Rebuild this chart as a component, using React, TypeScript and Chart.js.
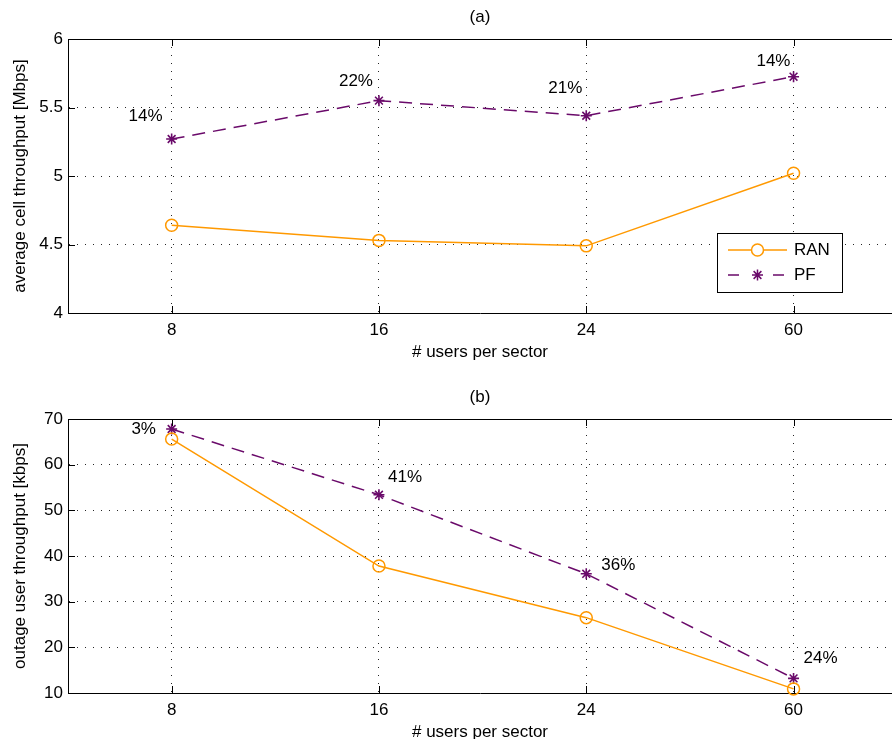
import React, { useEffect, useRef } from "react";
import { Chart, registerables } from "chart.js";

Chart.register(...registerables);

// ---------- data ----------
const categories = ["8", "16", "24", "60"];
const catPos = [1, 2, 3, 4];

// (a) average cell throughput [Mbps]
const ranThroughput = [4.64, 4.53, 4.49, 5.02];
const pfThroughput = [5.27, 5.55, 5.44, 5.725];
const gainALabels = ["14%", "22%", "21%", "14%"];
const gainAX = [0.874, 1.889, 2.899, 3.903];
const gainAY = [5.438, 5.693, 5.642, 5.839];
const yTicksA = [4, 4.5, 5, 5.5, 6];

// (b) outage user throughput [kbps]
const ranOutage = [65.6, 37.8, 26.5, 10.9];
const pfOutage = [67.8, 53.4, 36.1, 13.2];
const gainBLabels = ["3%", "41%", "36%", "24%"];
const gainBX = [0.865, 2.126, 3.155, 4.13];
const gainBY = [67.8, 57.3, 38.0, 17.7];
const yTicksB = [10, 20, 30, 40, 50, 60, 70];

const seriesNames = ["RAN", "PF"];

// ---------- styles ----------
const FONT = "'Liberation Sans', Arial, Helvetica, sans-serif";
const FS = 17;
const ORANGE = "#ff9900";
const PURPLE = "#6a0a6a";
const CW = 892;
const CH = 380;

const decorPlugin = {
  id: "decor",
  afterDatasetsDraw(chart: any, _args: any, opts: any) {
    const { ctx, chartArea: a, scales } = chart;
    const x = scales.x;
    const y = scales.y;
    ctx.save();
    // top box line and inward ticks
    ctx.strokeStyle = "#000";
    ctx.lineWidth = 1;
    ctx.setLineDash([]);
    ctx.beginPath();
    const top = Math.round(a.top) + 0.5;
    ctx.moveTo(a.left, top);
    ctx.lineTo(a.right, top);
    for (const v of catPos) {
      const px = Math.round(x.getPixelForValue(v)) + 0.5;
      ctx.moveTo(px, a.bottom);
      ctx.lineTo(px, a.bottom - 7);
      ctx.moveTo(px, a.top);
      ctx.lineTo(px, a.top + 7);
    }
    for (const v of opts.yTicks) {
      const py = Math.round(y.getPixelForValue(v)) + 0.5;
      ctx.moveTo(a.left, py);
      ctx.lineTo(a.left + 7, py);
    }
    ctx.stroke();

    // gain annotations
    ctx.fillStyle = "#000";
    ctx.font = `${FS}px ${FONT}`;
    ctx.textAlign = "center";
    ctx.textBaseline = "middle";
    opts.labels.forEach((t: string, i: number) => {
      ctx.fillText(t, x.getPixelForValue(opts.lx[i]), y.getPixelForValue(opts.ly[i]));
    });

    // legend
    if (opts.legend) {
      const L = opts.legend;
      ctx.fillStyle = "#fff";
      ctx.fillRect(L.x, L.y, L.w, L.h);
      ctx.strokeStyle = "#000";
      ctx.lineWidth = 1;
      ctx.strokeRect(L.x + 0.5, L.y + 0.5, L.w, L.h);
      chart.data.datasets.forEach((ds: any, i: number) => {
        const yy = L.y + 17 + i * 25;
        const x0 = L.x + 11;
        const x1 = L.x + 70;
        const xm = (x0 + x1) / 2;
        ctx.strokeStyle = ds.borderColor;
        ctx.lineWidth = ds.borderWidth;
        ctx.setLineDash(ds.borderDash && ds.borderDash.length ? [11, 34] : []);
        ctx.beginPath();
        ctx.moveTo(x0, yy);
        ctx.lineTo(x1, yy);
        ctx.stroke();
        ctx.setLineDash([]);
        ctx.beginPath();
        if (ds.pointStyle === "circle") {
          ctx.fillStyle = "#fff";
          ctx.arc(xm, yy, ds.pointRadius, 0, Math.PI * 2);
          ctx.fill();
          ctx.stroke();
        } else {
          const r = ds.pointRadius;
          for (let k = 0; k < 4; k++) {
            const ang = (k * Math.PI) / 4;
            ctx.moveTo(xm - r * Math.cos(ang), yy - r * Math.sin(ang));
            ctx.lineTo(xm + r * Math.cos(ang), yy + r * Math.sin(ang));
          }
          ctx.stroke();
        }
        ctx.fillStyle = "#000";
        ctx.textAlign = "left";
        ctx.textBaseline = "middle";
        ctx.fillText(ds.label, L.x + 77, yy);
      });
    }
    ctx.restore();
  },
};

function makeConfig(
  title: string,
  yTitle: string,
  ran: number[],
  pf: number[],
  yTicks: number[],
  labels: string[],
  lx: number[],
  ly: number[],
  withLegend: boolean
): any {
  const toPts = (arr: number[]) => catPos.map((p, i) => ({ x: p, y: arr[i] }));
  return {
    type: "line",
    data: {
      datasets: [
        {
          label: seriesNames[0],
          data: toPts(ran),
          borderColor: ORANGE,
          borderWidth: 1.5,
          pointStyle: "circle",
          pointRadius: 6,
          pointBorderWidth: 1.5,
          pointBorderColor: ORANGE,
          pointBackgroundColor: "rgba(0,0,0,0)",
          tension: 0,
          fill: false,
          clip: false,
        },
        {
          label: seriesNames[1],
          data: toPts(pf),
          borderColor: PURPLE,
          borderWidth: 1.5,
          borderDash: [13, 8],
          pointStyle: "star",
          pointRadius: 5.5,
          pointBorderWidth: 1.6,
          pointBorderColor: PURPLE,
          pointBackgroundColor: PURPLE,
          tension: 0,
          fill: false,
          clip: false,
        },
      ],
    },
    options: {
      responsive: false,
      animation: false,
      events: [],
      layout: { autoPadding: false, padding: { top: 0, left: 0, right: 0, bottom: 0 } },
      scales: {
        x: {
          type: "linear",
          min: 0.5,
          max: 0.5 + 824 / 207.3,
          afterBuildTicks: (s: any) => {
            s.ticks = catPos.map((v) => ({ value: v }));
          },
          afterFit: (s: any) => {
            s.height = CH - 313;
          },
          ticks: {
            color: "#000",
            font: { size: FS, family: FONT },
            padding: 7,
            maxRotation: 0,
            callback: (v: any) => {
              const i = catPos.indexOf(v);
              return i >= 0 ? categories[i] : "";
            },
          },
          grid: { color: "rgba(0,0,0,0.85)", lineWidth: 1, drawTicks: false },
          border: { display: true, color: "#000", width: 1, dash: [1, 7] },
          title: {
            display: true,
            text: "# users per sector",
            color: "#000",
            font: { size: FS, family: FONT },
            padding: { top: 0, bottom: 17.8 },
          },
        },
        y: {
          type: "linear",
          min: yTicks[0],
          max: yTicks[yTicks.length - 1],
          afterBuildTicks: (s: any) => {
            s.ticks = yTicks.map((v) => ({ value: v }));
          },
          afterFit: (s: any) => {
            s.width = 68;
          },
          ticks: {
            color: "#000",
            font: { size: FS, family: FONT },
            padding: 5,
            callback: (v: any) => String(v),
          },
          grid: { color: "rgba(0,0,0,0.85)", lineWidth: 1, drawTicks: false },
          border: { display: true, color: "#000", width: 1, dash: [1, 7] },
          title: {
            display: true,
            text: yTitle,
            color: "#000",
            font: { size: FS, family: FONT },
            padding: { top: 9.8, bottom: 0 },
          },
        },
      },
      plugins: {
        legend: { display: false },
        tooltip: { enabled: false },
        title: {
          display: true,
          fullSize: false,
          text: title,
          color: "#000",
          font: { size: FS, family: FONT, weight: "normal" },
          padding: { top: 6.8, bottom: 11.8 },
        },
        decor: {
          yTicks,
          labels,
          lx,
          ly,
          legend: withLegend ? { x: 717, y: 233, w: 125, h: 59 } : null,
        },
      },
    },
    plugins: [decorPlugin],
  };
}

function ChartCanvas({ config }: { config: any }) {
  const ref = useRef<HTMLCanvasElement | null>(null);
  useEffect(() => {
    if (!ref.current) return;
    const chart = new Chart(ref.current, config);
    return () => chart.destroy();
  }, [config]);
  return <canvas ref={ref} width={CW} height={CH} style={{ display: "block", width: CW, height: CH }} />;
}

const configA = makeConfig(
  "(a)",
  "average cell throughput [Mbps]",
  ranThroughput,
  pfThroughput,
  yTicksA,
  gainALabels,
  gainAX,
  gainAY,
  true
);
const configB = makeConfig(
  "(b)",
  "outage user throughput [kbps]",
  ranOutage,
  pfOutage,
  yTicksB,
  gainBLabels,
  gainBX,
  gainBY,
  false
);

export default function App() {
  return (
    <div
      style={{
        position: "absolute",
        left: 0,
        top: 0,
        width: CW,
        height: 739,
        overflow: "hidden",
        background: "#fff",
      }}
    >
      <ChartCanvas config={configA} />
      <ChartCanvas config={configB} />
    </div>
  );
}
